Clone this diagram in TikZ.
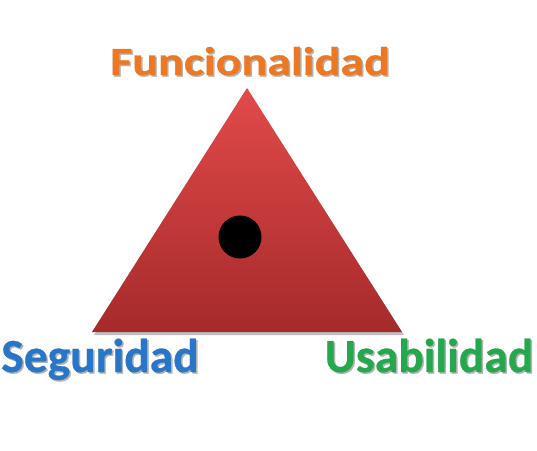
\documentclass[tikz,border=0pt]{standalone}
\usepackage{fontspec}
\setmainfont{Carlito}[BoldFeatures={FakeBold=0.6}]
\usetikzlibrary{shadings}
\definecolor{orangeT}{RGB}{236,120,36}
\definecolor{blueT}{RGB}{40,118,200}
\definecolor{greenT}{RGB}{36,168,78}
\definecolor{redTop}{RGB}{226,74,74}
\definecolor{redBot}{RGB}{166,42,42}
\tikzset{
  biglbl/.style={font=\fontsize{47.5}{49}\selectfont\bfseries, inner sep=0pt, anchor=base},
  toplbl/.style={font=\fontsize{40}{42}\selectfont\bfseries, inner sep=0pt, anchor=base, xscale=1.2},
}
\begin{document}
\begin{tikzpicture}[x=1pt,y=-1pt]
\useasboundingbox (0,0) rectangle (537,450);
\fill[white] (0,0) rectangle (537,450);
% triangle shadow
\fill[black!25] (248,91) -- (404,335) -- (94,335) -- cycle;
% triangle
\coordinate (A) at (247,88);
\coordinate (B) at (402,332);
\coordinate (C) at (92,332);
\shade[top color=redTop, bottom color=redBot] (A) -- (B) -- (C) -- cycle;
% dot
\node[circle, fill=black, minimum size=43pt, inner sep=0pt] (dot) at (240,237) {};
% labels with shadow
\node[toplbl, text=black!30] at (251.5,76.5) {Funcionalidad};
\node[toplbl, text=orangeT] (func) at (250,75) {Funcionalidad};
\node[biglbl, text=black!30] at (101.5,373.5) {Seguridad};
\node[biglbl, text=blueT] (seg) at (100,372) {Seguridad};
\node[biglbl, text=black!30] at (430.5,373.5) {Usabilidad};
\node[biglbl, text=greenT] (usa) at (429,372) {Usabilidad};
\end{tikzpicture}
\end{document}
